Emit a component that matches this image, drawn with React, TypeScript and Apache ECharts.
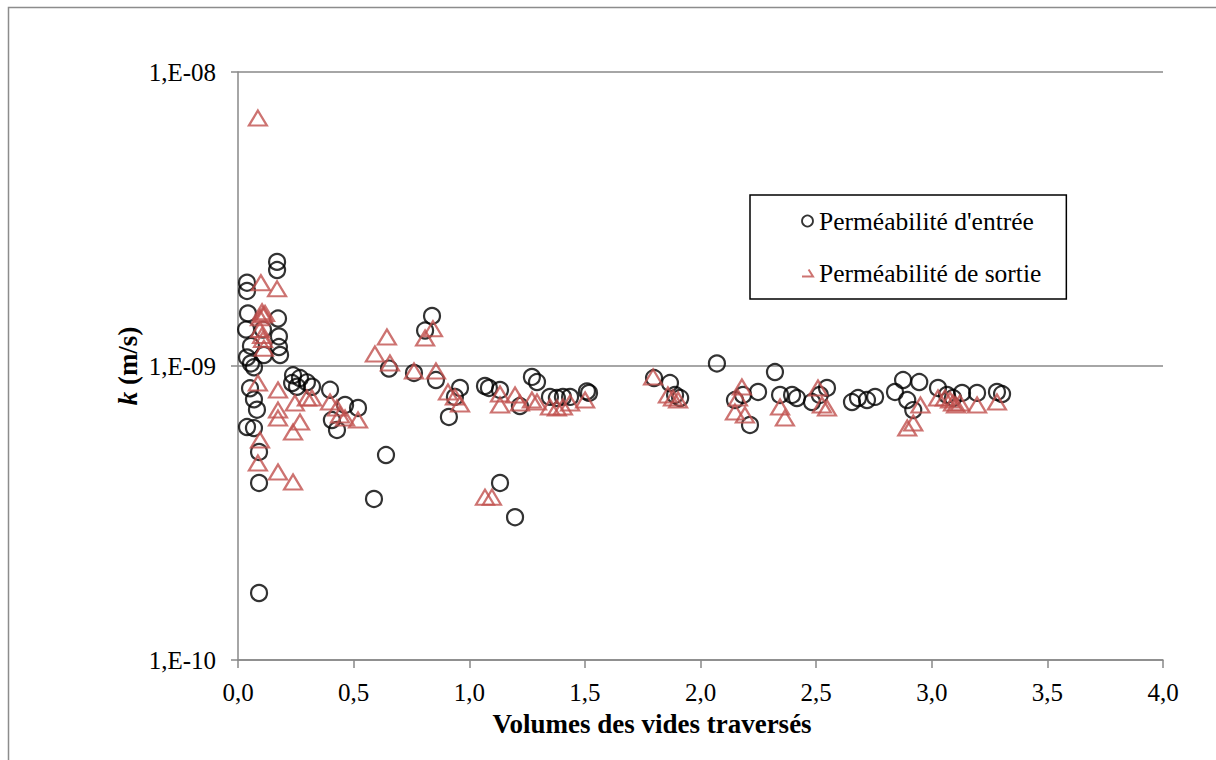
import React, { useEffect, useRef } from "react";
import * as echarts from "echarts";

const xTicks = ["0,0", "0,5", "1,0", "1,5", "2,0", "2,5", "3,0", "3,5", "4,0"];
const seriesNames = ["Perméabilité d'entrée", "Perméabilité de sortie"];

const entreeX = [
  0.039, 0.039, 0.043, 0.035, 0.056, 0.039, 0.056, 0.069, 0.169, 0.169, 0.173, 0.177, 0.177, 0.182, 0.108, 0.112,
  0.052, 0.069, 0.082, 0.039, 0.069, 0.091, 0.091, 0.091,
  0.238, 0.268, 0.298, 0.32, 0.234, 0.255, 0.398, 0.406, 0.428, 0.463, 0.519, 0.588, 0.64, 0.653, 0.761, 0.809,
  0.839, 0.856, 0.912, 0.938, 0.96, 1.068, 1.085, 1.133, 1.133, 1.198, 1.219, 1.271, 1.293, 1.349, 1.379, 1.405,
  1.436, 1.509, 1.518,
  1.799, 1.868, 1.89, 1.912, 2.071, 2.149, 2.184, 2.249, 2.214, 2.322, 2.344, 2.396, 2.417, 2.482, 2.516, 2.547,
  2.655, 2.681, 2.72, 2.755, 2.841, 2.876, 2.946, 2.894, 2.92, 3.027, 3.066, 3.092, 3.131, 3.196, 3.282, 3.304,
];
const entreeK = [
  1.92e-9, 1.8e-9, 1.51e-9, 1.33e-9, 1.17e-9, 1.07e-9, 1.02e-9, 0.99e-9, 2.26e-9, 2.12e-9, 1.45e-9, 1.26e-9,
  1.16e-9, 1.09e-9, 1.33e-9, 1.09e-9, 0.84e-9, 0.77e-9, 0.71e-9, 0.62e-9, 0.615e-9, 0.51e-9, 0.4e-9, 0.169e-9,
  0.93e-9, 0.91e-9, 0.88e-9, 0.85e-9, 0.875e-9, 0.85e-9, 0.83e-9, 0.655e-9, 0.606e-9, 0.737e-9, 0.72e-9,
  0.353e-9, 0.498e-9, 0.98e-9, 0.947e-9, 1.32e-9, 1.48e-9, 0.896e-9, 0.671e-9, 0.785e-9, 0.842e-9, 0.855e-9,
  0.842e-9, 0.829e-9, 0.4e-9, 0.306e-9, 0.731e-9, 0.918e-9, 0.882e-9, 0.785e-9, 0.778e-9, 0.785e-9, 0.785e-9,
  0.82e-9, 0.81e-9,
  0.91e-9, 0.875e-9, 0.797e-9, 0.778e-9, 1.02e-9, 0.766e-9, 0.797e-9, 0.816e-9, 0.63e-9, 0.954e-9, 0.797e-9,
  0.797e-9, 0.778e-9, 0.754e-9, 0.797e-9, 0.842e-9, 0.754e-9, 0.778e-9, 0.766e-9, 0.785e-9, 0.816e-9, 0.896e-9,
  0.882e-9, 0.766e-9, 0.708e-9, 0.842e-9, 0.797e-9, 0.778e-9, 0.81e-9, 0.81e-9, 0.816e-9, 0.803e-9,
];

const sortieX = [
  0.086, 0.099, 0.169, 0.104, 0.108, 0.095, 0.117, 0.095, 0.104, 0.108,
  0.112, 0.086, 0.173, 0.246, 0.298, 0.32, 0.173, 0.173, 0.268, 0.238,
  0.095, 0.086, 0.173, 0.238, 0.398, 0.428, 0.441, 0.463, 0.519, 0.592,
  0.644, 0.657, 0.809, 0.843, 0.761, 0.856, 0.908, 0.938, 0.96, 1.068,
  1.098, 1.133, 1.133, 1.198, 1.219, 1.271, 1.293, 1.349, 1.379, 1.405,
  1.436, 1.501, 1.795, 1.859, 1.881, 1.903, 2.179, 2.162, 2.149, 2.192,
  2.344, 2.365, 2.508, 2.525, 2.547, 2.894, 2.92, 2.951, 3.027, 3.057,
  3.079, 3.092, 3.105, 3.122, 3.196, 3.282,
];
const sortieK = [
  6.97e-9, 1.92e-9, 1.83e-9, 1.53e-9, 1.49e-9, 1.46e-9, 1.51e-9, 1.33e-9, 1.27e-9, 1.23e-9,
  1.15e-9, 0.875e-9, 0.829e-9, 0.748e-9, 0.778e-9, 0.778e-9, 0.708e-9, 0.665e-9, 0.645e-9, 0.596e-9,
  0.56e-9, 0.468e-9, 0.436e-9, 0.403e-9, 0.754e-9, 0.72e-9, 0.681e-9, 0.665e-9, 0.655e-9, 1.098e-9,
  1.255e-9, 1.024e-9, 1.245e-9, 1.34e-9, 0.962e-9, 0.962e-9, 0.816e-9, 0.785e-9, 0.743e-9, 0.358e-9,
  0.358e-9, 0.803e-9, 0.737e-9, 0.797e-9, 0.748e-9, 0.766e-9, 0.754e-9, 0.725e-9, 0.72e-9, 0.725e-9,
  0.748e-9, 0.766e-9, 0.918e-9, 0.797e-9, 0.778e-9, 0.766e-9, 0.848e-9, 0.778e-9, 0.697e-9, 0.681e-9,
  0.725e-9, 0.665e-9, 0.842e-9, 0.737e-9, 0.72e-9, 0.615e-9, 0.64e-9, 0.737e-9, 0.778e-9, 0.778e-9,
  0.766e-9, 0.748e-9, 0.737e-9, 0.748e-9, 0.737e-9, 0.754e-9,
];

const FONT = "'Liberation Serif', 'Times New Roman', serif";
const GRAY = "#898989";
const RED = "#c0504d";

export default function App() {
  const ref = useRef<HTMLDivElement>(null);
  useEffect(() => {
    document.body.style.margin = "0";
    if (!ref.current) return;
    const chart = echarts.init(ref.current, undefined, { renderer: "svg" });
    const entreeData = entreeX.map((x, i) => [x, entreeK[i]]);
    const sortieData = sortieX.map((x, i) => [x, sortieK[i]]);
    chart.setOption({
      animation: false,
      backgroundColor: "#ffffff",
      textStyle: { fontFamily: FONT },
      grid: { left: 238, right: 53, top: 72, bottom: 100, containLabel: false },
      graphic: [
        {
          type: "rect",
          silent: true,
          shape: { x: 8.5, y: 7.5, width: 1400, height: 1000 },
          style: { fill: "none", stroke: "#8c8c8c", lineWidth: 1.5 },
        },
      ],
      legend: {
        orient: "vertical",
        left: 750,
        top: 195,
        padding: [13, 25, 13, 51],
        itemGap: 26,
        itemWidth: 11,
        itemHeight: 11,
        borderColor: "#000",
        borderWidth: 1.5,
        borderRadius: 0,
        backgroundColor: "#fff",
        selectedMode: false,
        textStyle: { fontFamily: FONT, fontSize: 25.5, color: "#000", lineHeight: 24, padding: [0, 0, 0, 1] },
        data: [
          {
            name: seriesNames[0],
            icon: "circle",
            itemStyle: { color: "rgba(0,0,0,0)", borderColor: "#000", borderWidth: 1.8 },
          },
          {
            name: seriesNames[1],
            icon: "path://M0,10L10,10L6,3.5",
            itemStyle: { color: "rgba(0,0,0,0)", borderColor: RED, borderWidth: 2 },
          },
        ],
      },
      xAxis: {
        type: "value",
        min: 0,
        max: 4,
        interval: 0.5,
        name: "Volumes des vides traversés",
        nameLocation: "middle",
        nameGap: 50,
        nameTextStyle: {
          fontFamily: FONT,
          fontSize: 27,
          fontWeight: "bold",
          color: "#000",
          padding: [0, 97, 0, 0],
        },
        axisLine: { show: true, lineStyle: { color: GRAY, width: 1.5 } },
        axisTick: { show: true, inside: false, length: 8, lineStyle: { color: GRAY, width: 1.5 } },
        splitLine: { show: false },
        axisLabel: {
          fontFamily: FONT,
          fontSize: 25,
          color: "#000",
          margin: 20,
          formatter: (v: number) => xTicks[Math.round(v / 0.5)] ?? "",
        },
      },
      yAxis: {
        type: "log",
        logBase: 10,
        min: 1e-10,
        max: 1e-8,
        name: "{k|k} (m/s)",
        nameLocation: "middle",
        nameGap: 97,
        nameMoveOverlap: false,
        nameTextStyle: {
          fontFamily: FONT,
          fontSize: 27,
          fontWeight: "bold",
          color: "#000",
          rich: {
            k: { fontFamily: FONT, fontSize: 27, fontWeight: "bold", fontStyle: "italic", color: "#000" },
          },
        },
        axisLine: { show: true, lineStyle: { color: GRAY, width: 1.5 } },
        axisTick: { show: true, inside: false, length: 7, lineStyle: { color: GRAY, width: 1.5 } },
        minorTick: { show: false },
        splitLine: { show: true, lineStyle: { color: GRAY, width: 1.5 } },
        axisLabel: {
          fontFamily: FONT,
          fontSize: 25,
          color: "#000",
          margin: 22,
          formatter: (v: number) => {
            const e = Math.round(Math.log10(v));
            return "1,E" + (e < 0 ? "-" : "+") + String(Math.abs(e)).padStart(2, "0");
          },
        },
      },
      series: [
        {
          name: seriesNames[0],
          type: "scatter",
          symbol: "circle",
          symbolSize: 16,
          data: entreeData,
          itemStyle: { color: "rgba(0,0,0,0)", borderColor: "#000", borderWidth: 2.2 },
          emphasis: { disabled: true },
        },
        {
          name: seriesNames[1],
          type: "scatter",
          symbol: "triangle",
          symbolSize: [18, 15],
          data: sortieData,
          itemStyle: { color: "rgba(0,0,0,0)", borderColor: RED, borderWidth: 2.2 },
          emphasis: { disabled: true },
        },
      ],
    });
    return () => chart.dispose();
  }, []);
  return <div ref={ref} style={{ width: 1216, height: 760 }} />;
}
